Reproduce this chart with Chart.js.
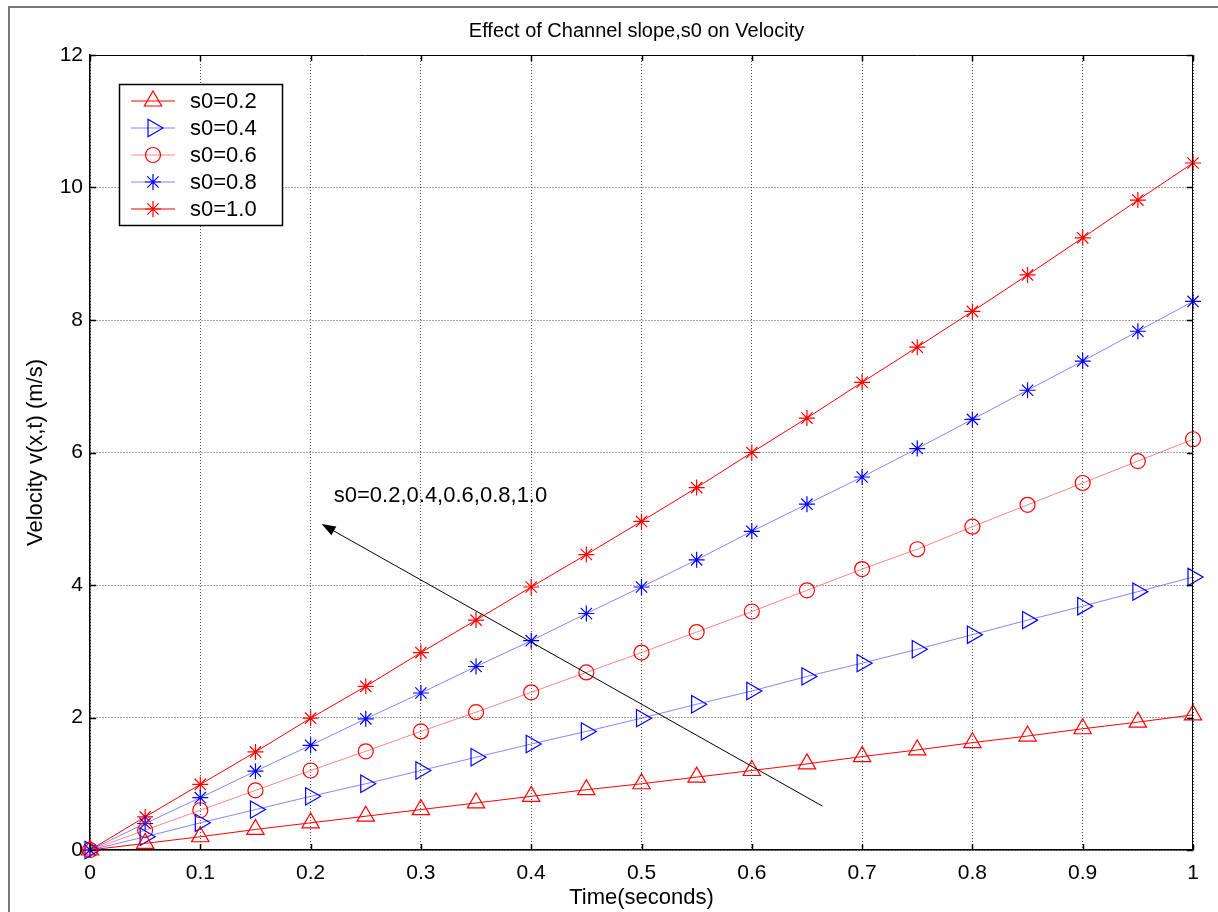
<!DOCTYPE html>
<html>
<head>
<meta charset="utf-8">
<title>Effect of Channel slope,s0 on Velocity</title>
<script src="https://cdn.jsdelivr.net/npm/chart.js@4.4.1/dist/chart.umd.min.js"></script>
<style>
  html, body { margin: 0; padding: 0; background: #fff; }
  canvas { display: block; }
</style>
</head>
<body>
<canvas id="mainChart" width="1218" height="912"></canvas>
<script>
// time samples (seconds)
const timeSec = [0, 0.05, 0.1, 0.15, 0.2, 0.25, 0.3, 0.35, 0.4, 0.45, 0.5,
                 0.55, 0.6, 0.65, 0.7, 0.75, 0.8, 0.85, 0.9, 0.95, 1];

// velocity v(x,t) in m/s
const velS02 = [0, 0.1, 0.2, 0.31, 0.41, 0.51, 0.61, 0.71, 0.81, 0.91, 1.0,
                1.1, 1.2, 1.3, 1.41, 1.51, 1.62, 1.72, 1.83, 1.93, 2.04];
const velS04 = [0, 0.2, 0.41, 0.61, 0.81, 1.0, 1.2, 1.4, 1.6, 1.79, 1.99,
                2.2, 2.4, 2.62, 2.82, 3.03, 3.25, 3.47, 3.68, 3.9, 4.12];
const velS06 = [0, 0.3, 0.6, 0.9, 1.2, 1.49, 1.79, 2.08, 2.38, 2.68, 2.98,
                3.29, 3.6, 3.92, 4.24, 4.54, 4.88, 5.21, 5.54, 5.87, 6.2];
const velS08 = [0, 0.4, 0.79, 1.19, 1.58, 1.98, 2.37, 2.77, 3.16, 3.57, 3.97,
                4.38, 4.81, 5.22, 5.63, 6.06, 6.5, 6.94, 7.38, 7.83, 8.28];
const velS10 = [0, 0.5, 0.99, 1.48, 1.99, 2.47, 2.98, 3.47, 3.97, 4.46, 4.96,
                5.47, 6.0, 6.52, 7.06, 7.59, 8.13, 8.68, 9.24, 9.81, 10.37];

const seriesLabels = ['s0=0.2', 's0=0.4', 's0=0.6', 's0=0.8', 's0=1.0'];
const xTicks = [0, 0.1, 0.2, 0.3, 0.4, 0.5, 0.6, 0.7, 0.8, 0.9, 1];
const yTicks = [0, 2, 4, 6, 8, 10, 12];

const titleText = 'Effect of Channel slope,s0 on Velocity';
const noteText = 's0=0.2,0.4,0.6,0.8,1.0';
// arrow in data units: tail -> head
const arrowTail = { x: 0.664, y: 0.663 };
const arrowHead = { x: 0.21, y: 4.92 };
const notePos = { x: 0.221, y: 5.34 };

const FONT = "'Liberation Sans', Arial, sans-serif";

function toPoints(ys) {
    return timeSec.map((t, i) => ({ x: t, y: ys[i] }));
}

function series(label, ys, markColor, lineColor, style, radius, rotation) {
    return {
        label: label,
        data: toPoints(ys),
        borderColor: lineColor,
        borderWidth: 1,
        pointStyle: style,
        pointRadius: radius,
        pointHoverRadius: radius,
        pointRotation: rotation || 0,
        pointBorderColor: markColor,
        pointBackgroundColor: 'rgba(0,0,0,0)',
        pointBorderWidth: 1.2,
        tension: 0,
        fill: false,
        clip: false
    };
}

const matlabFrame = {
    id: 'matlabFrame',
    afterDraw(chart) {
        const { ctx, chartArea: a, scales: { x, y } } = chart;
        ctx.save();

        // top and right box edges
        ctx.strokeStyle = '#000';
        ctx.lineWidth = 1;
        ctx.beginPath();
        ctx.moveTo(a.left, a.top + 0.5);
        ctx.lineTo(a.right, a.top + 0.5);
        ctx.moveTo(a.right - 0.5, a.top);
        ctx.lineTo(a.right - 0.5, a.bottom);
        ctx.stroke();

        // inward tick marks on all four sides
        const tl = 6;
        ctx.lineWidth = 1.5;
        ctx.beginPath();
        xTicks.forEach(v => {
            const px = Math.round(x.getPixelForValue(v)) + 0.5;
            ctx.moveTo(px, a.bottom); ctx.lineTo(px, a.bottom - tl);
            ctx.moveTo(px, a.top); ctx.lineTo(px, a.top + tl);
        });
        yTicks.forEach(v => {
            const py = Math.round(y.getPixelForValue(v)) + 0.5;
            ctx.moveTo(a.left, py); ctx.lineTo(a.left + tl, py);
            ctx.moveTo(a.right, py); ctx.lineTo(a.right - tl, py);
        });
        ctx.stroke();

        // annotation arrow
        const tx = x.getPixelForValue(arrowTail.x), ty = y.getPixelForValue(arrowTail.y);
        const hx = x.getPixelForValue(arrowHead.x), hy = y.getPixelForValue(arrowHead.y);
        const ang = Math.atan2(hy - ty, hx - tx);
        ctx.strokeStyle = '#000';
        ctx.lineWidth = 1;
        ctx.beginPath();
        ctx.moveTo(tx, ty);
        ctx.lineTo(hx - Math.cos(ang) * 8, hy - Math.sin(ang) * 8);
        ctx.stroke();
        ctx.fillStyle = '#000';
        ctx.beginPath();
        ctx.moveTo(hx, hy);
        ctx.lineTo(hx - Math.cos(ang) * 14 + Math.sin(ang) * 5, hy - Math.sin(ang) * 14 - Math.cos(ang) * 5);
        ctx.lineTo(hx - Math.cos(ang) * 14 - Math.sin(ang) * 5, hy - Math.sin(ang) * 14 + Math.cos(ang) * 5);
        ctx.closePath();
        ctx.fill();

        ctx.font = '22px ' + FONT;
        ctx.textAlign = 'left';
        ctx.textBaseline = 'middle';
        ctx.fillText(noteText, x.getPixelForValue(notePos.x), y.getPixelForValue(notePos.y));

        // legend box
        const bx = a.left + 29, by = a.top + 29, bw = 163, bh = 141;
        ctx.fillStyle = '#fff';
        ctx.fillRect(bx, by, bw, bh);
        ctx.strokeStyle = '#000';
        ctx.lineWidth = 1.5;
        ctx.strokeRect(bx + 0.5, by + 0.5, bw, bh);
        chart.data.datasets.forEach((ds, i) => {
            const ry = by + 17 + i * 27;
            ctx.strokeStyle = ds.borderColor;
            ctx.lineWidth = 1;
            ctx.beginPath();
            ctx.moveTo(bx + 12, ry);
            ctx.lineTo(bx + 56, ry);
            ctx.stroke();
            ctx.strokeStyle = ds.pointBorderColor;
            ctx.fillStyle = 'rgba(0,0,0,0)';
            ctx.lineWidth = 1.2;
            Chart.helpers.drawPoint(ctx, {
                pointStyle: ds.pointStyle,
                rotation: ds.pointRotation,
                radius: ds.pointRadius,
                borderWidth: 1.2
            }, bx + 34, ry);
            ctx.fillStyle = '#000';
            ctx.font = '22px ' + FONT;
            ctx.textBaseline = 'middle';
            ctx.fillText(ds.label, bx + 71, ry + 1);
        });

        // title
        ctx.fillStyle = '#000';
        ctx.font = '20px ' + FONT;
        ctx.textAlign = 'center';
        ctx.textBaseline = 'middle';
        ctx.fillText(titleText, (a.left + a.right) / 2 - 5, 31);

        // figure frame
        ctx.strokeStyle = '#777';
        ctx.lineWidth = 2;
        ctx.beginPath();
        ctx.moveTo(9, chart.height);
        ctx.lineTo(9, 7);
        ctx.lineTo(chart.width, 7);
        ctx.stroke();

        ctx.restore();
    }
};

const ctx = document.getElementById('mainChart').getContext('2d');
const velocityChart = new Chart(ctx, {
    type: 'line',
    data: {
        datasets: [
            series(seriesLabels[0], velS02, '#ff0000', '#ff0000', 'triangle', 10, 0),
            series(seriesLabels[1], velS04, '#0000ff', 'rgba(80,80,255,0.7)', 'triangle', 10, 90),
            series(seriesLabels[2], velS06, '#ff0000', 'rgba(255,80,80,0.7)', 'circle', 7.5, 0),
            series(seriesLabels[3], velS08, '#0000ff', 'rgba(80,80,255,0.7)', 'star', 8, 0),
            series(seriesLabels[4], velS10, '#ff0000', '#ff0000', 'star', 8, 0)
        ]
    },
    options: {
        responsive: false,
        animation: false,
        devicePixelRatio: 1,
        layout: { padding: { top: 55, right: 25, left: 0, bottom: 0 } },
        plugins: {
            legend: { display: false },
            title: { display: false },
            tooltip: { enabled: false }
        },
        scales: {
            x: {
                type: 'linear',
                min: 0,
                max: 1,
                afterFit: s => { s.height = 62; },
                afterBuildTicks: s => { s.ticks = xTicks.map(v => ({ value: v })); },
                ticks: {
                    color: '#000',
                    padding: 11,
                    maxRotation: 0,
                    font: { family: FONT, size: 21 },
                    callback: v => String(v)
                },
                grid: { color: 'rgba(0,0,0,0.7)', lineWidth: 1, drawTicks: false },
                border: { display: true, color: '#000', width: 1.5, dash: [1, 2] },
                title: {
                    display: true,
                    text: 'Time(seconds)',
                    color: '#000',
                    font: { family: FONT, size: 22 },
                    padding: { top: 0, bottom: 1 }
                }
            },
            y: {
                type: 'linear',
                min: 0,
                max: 12,
                afterFit: s => { s.width = 90; },
                afterBuildTicks: s => { s.ticks = yTicks.map(v => ({ value: v })); },
                ticks: {
                    color: '#000',
                    padding: 7,
                    font: { family: FONT, size: 21 },
                    callback: v => String(v)
                },
                grid: { color: 'rgba(0,0,0,0.7)', lineWidth: 1, drawTicks: false },
                border: { display: true, color: '#000', width: 1.5, dash: [1, 2] },
                title: {
                    display: true,
                    text: 'Velocity v(x,t) (m/s)',
                    color: '#000',
                    font: { family: FONT, size: 22 },
                    padding: { top: 23, bottom: 0 }
                }
            }
        }
    },
    plugins: [matlabFrame]
});
</script>
</body>
</html>
